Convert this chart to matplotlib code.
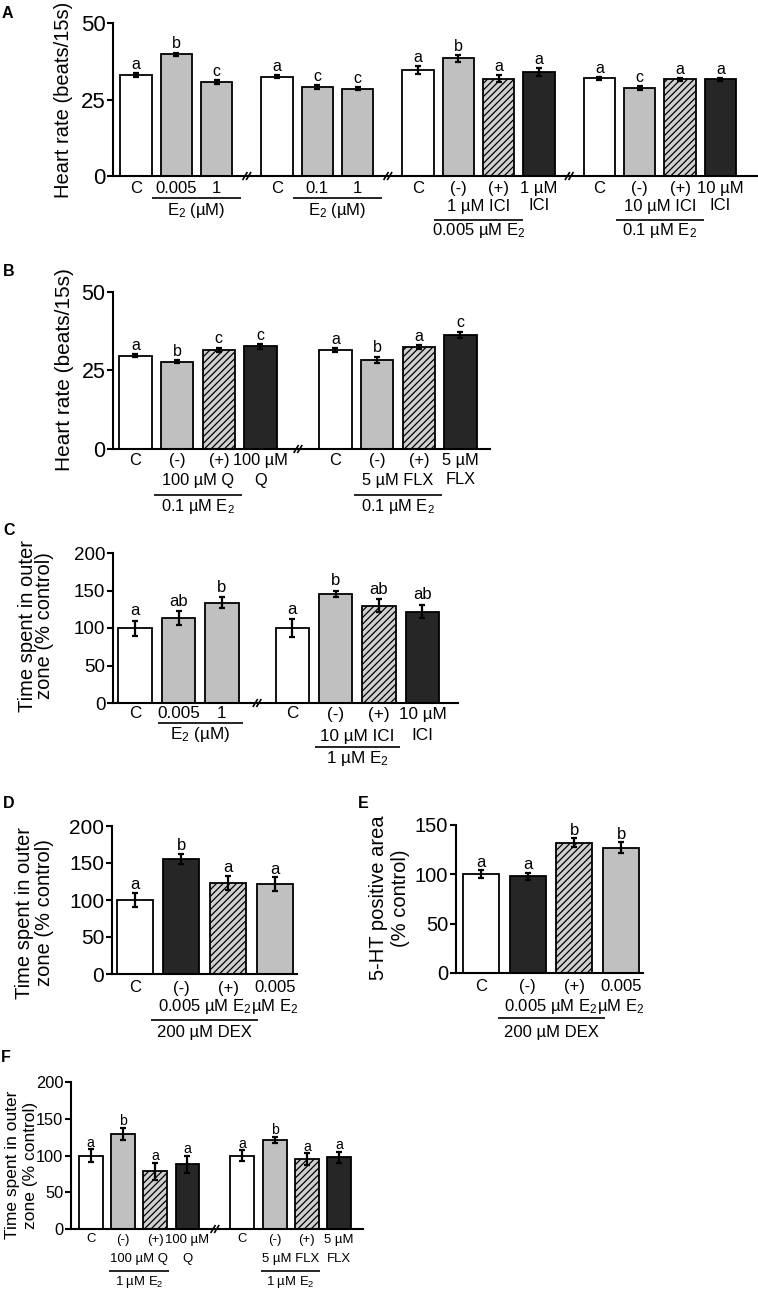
import matplotlib
matplotlib.use("Agg")
import matplotlib.pyplot as plt
from matplotlib import font_manager as fm

W, H, DPI = 758, 1295, 100

_names = {f.name for f in fm.fontManager.ttflist}
BASE = "Liberation Sans" if "Liberation Sans" in _names else "DejaVu Sans"
HAS_NARROW = "Liberation Sans Narrow" in _names
NARROW = "Liberation Sans Narrow" if HAS_NARROW else BASE

plt.rcParams["font.family"] = [BASE, "DejaVu Sans"]
plt.rcParams["mathtext.fontset"] = "custom"
plt.rcParams["mathtext.rm"] = BASE
plt.rcParams["mathtext.it"] = BASE + ":italic"
plt.rcParams["mathtext.bf"] = BASE + ":bold"
plt.rcParams["hatch.linewidth"] = 0.9

MU = "\u00b5"
E2 = "E$_2$"

# ---------------- data ----------------
# Panel A
a_cats = ["C", "0.005", "1", "C", "0.1", "1", "C", "(-)", "(+)", f"1 {MU}M",
          "C", "(-)", "(+)", f"10 {MU}M"]
a_vals = [33.0, 39.8, 30.7, 32.5, 29.0, 28.5, 34.6, 38.5, 31.8, 34.0, 31.9, 28.7, 31.6, 31.6]
a_errs = [0.75, 0.55, 0.65, 0.6, 0.65, 0.55, 1.2, 1.1, 1.1, 1.25, 0.55, 0.55, 0.5, 0.45]
a_sig = ["a", "b", "c", "a", "c", "c", "a", "b", "a", "a", "a", "c", "a", "a"]
a_fill = ["white", "gray", "gray", "white", "gray", "gray", "white", "gray", "hatch", "black",
          "white", "gray", "hatch", "black"]
a_groups = [3, 3, 4, 4]
a_row2 = [(7, 8, f"1 {MU}M ICI"), (9, 9, "ICI"), (11, 12, f"10 {MU}M ICI"), (13, 13, "ICI")]
a_brackets = [(1, 2, f"{E2} ({MU}M)"), (4, 5, f"{E2} ({MU}M)"),
              (7, 8, f"0.005 {MU}M {E2}"), (11, 12, f"0.1 {MU}M {E2}")]

# Panel B
b_cats = ["C", "(-)", "(+)", f"100 {MU}M", "C", "(-)", "(+)", f"5 {MU}M"]
b_vals = [29.7, 27.8, 31.6, 32.7, 31.5, 28.3, 32.4, 36.3]
b_errs = [0.5, 0.5, 0.65, 0.7, 0.65, 1.05, 0.65, 1.05]
b_sig = ["a", "b", "c", "c", "a", "b", "a", "c"]
b_fill = ["white", "gray", "hatch", "black", "white", "gray", "hatch", "black"]
b_groups = [4, 4]
b_row2 = [(1, 2, f"100 {MU}M Q"), (3, 3, "Q"), (5, 6, f"5 {MU}M FLX"), (7, 7, "FLX")]
b_brackets = [(1, 2, f"0.1 {MU}M {E2}"), (5, 6, f"0.1 {MU}M {E2}")]

# Panel C
c_cats = ["C", "0.005", "1", "C", "(-)", "(+)", f"10 {MU}M"]
c_vals = [100, 113, 133.5, 100, 145.5, 129.5, 122]
c_errs = [10, 9.5, 7.3, 11.5, 4.5, 8.7, 9.3]
c_sig = ["a", "ab", "b", "a", "b", "ab", "ab"]
c_fill = ["white", "gray", "gray", "white", "gray", "hatch", "black"]
c_groups = [3, 4]
c_row2 = [(4, 5, f"10 {MU}M ICI"), (6, 6, "ICI")]
c_brackets = [(1, 2, f"{E2} ({MU}M)"), (4, 5, f"1 {MU}M {E2}")]

# Panel D
d_cats = ["C", "(-)", "(+)", "0.005"]
d_vals = [100, 156, 123, 121.5]
d_errs = [10, 6.8, 10, 9]
d_sig = ["a", "b", "a", "a"]
d_fill = ["white", "black", "hatch", "gray"]
d_groups = [4]
d_row2 = [(1, 2, f"0.005 {MU}M {E2}"), (3, 3, f"{MU}M {E2}")]
d_brackets = [(1, 2, f"200 {MU}M DEX")]

# Panel E
e_cats = ["C", "(-)", "(+)", "0.005"]
e_vals = [100, 98, 132, 127]
e_errs = [3.9, 3.4, 4.8, 5.3]
e_sig = ["a", "a", "b", "b"]
e_fill = ["white", "black", "hatch", "gray"]
e_groups = [4]
e_row2 = [(1, 2, f"0.005 {MU}M {E2}"), (3, 3, f"{MU}M {E2}")]
e_brackets = [(1, 2, f"200 {MU}M DEX")]

# Panel F
f_cats = ["C", "(-)", "(+)", f"100 {MU}M", "C", "(-)", "(+)", f"5 {MU}M"]
f_vals = [100, 129.5, 78.5, 88, 100, 121.5, 95, 97.5]
f_errs = [8.6, 8.4, 11.8, 12, 7.2, 4, 7.9, 7.9]
f_sig = ["a", "b", "a", "a", "a", "b", "a", "a"]
f_fill = ["white", "gray", "hatch", "black", "white", "gray", "hatch", "black"]
f_groups = [4, 4]
f_row2 = [(1, 2, f"100 {MU}M Q"), (3, 3, "Q"), (5, 6, f"5 {MU}M FLX"), (7, 7, "FLX")]
f_brackets = [(1, 2, f"1 {MU}M {E2}"), (5, 6, f"1 {MU}M {E2}")]

# ---------------- styles ----------------
STYLE = {
    "white": dict(color="white", hatch=None),
    "gray": dict(color="#c0c0c0", hatch=None),
    "black": dict(color="#262626", hatch=None),
    "hatch": dict(color="#d0d0d0", hatch="/////"),
}

fig = plt.figure(figsize=(W / DPI, H / DPI), dpi=DPI)


def positions(groups, gap):
    xs = []
    p = 0.0
    for gi, n in enumerate(groups):
        if gi > 0:
            p += gap - 1
        for _ in range(n):
            xs.append(p)
            p += 1
    return xs


def draw_panel(box, xlim, ylim, yticks, groups, gap, cats, vals, errs, sig, fill,
               row2, brackets, lay):
    l, t, r, b = box
    ax = fig.add_axes([l / W, 1 - b / H, (r - l) / W, (b - t) / H])
    xs = positions(groups, gap)
    fam = [lay["family"], "DejaVu Sans"]
    ypp = (ylim[1] - ylim[0]) / (b - t)
    xpp = (xlim[1] - xlim[0]) / (r - l)

    for x, v, f in zip(xs, vals, fill):
        st = STYLE[f]
        ax.bar(x, v, width=lay["bw"], color=st["color"], edgecolor="black",
               linewidth=1.3, hatch=st["hatch"], zorder=2)
    ax.errorbar(xs, vals, yerr=errs, fmt="none", ecolor="black", elinewidth=1.6,
                capsize=2.3, capthick=1.6, zorder=3)
    for x, v, e, s in zip(xs, vals, errs, sig):
        ax.annotate(s, (x, v + e), xytext=(0, lay["sig_off"]), textcoords="offset points",
                    ha="center", va="baseline", fontsize=lay["fs_sig"], family=fam)

    ax.set_xlim(*xlim)
    ax.set_ylim(*ylim)
    ax.set_yticks(yticks)
    ax.set_xticks([])
    ax.tick_params(axis="y", direction="out", length=4, width=1.5, pad=1.5,
                   labelsize=lay["fs_tick"])
    for lbl in ax.get_yticklabels():
        lbl.set_family(fam)
    for sp in ("top", "right"):
        ax.spines[sp].set_visible(False)
    for sp in ("left", "bottom"):
        ax.spines[sp].set_linewidth(1.5)
    ax.patch.set_alpha(0)

    def row(x, text, dy):
        ax.annotate(text, (x, 0), xycoords=("data", "axes fraction"),
                    xytext=(0, -dy * 72 / DPI), textcoords="offset points",
                    ha="center", va="center", fontsize=lay["fs_x"], family=fam,
                    annotation_clip=False)

    for x, c in zip(xs, cats):
        row(x, c, lay["r1"])
    for i0, i1, txt in row2:
        row((xs[i0] + xs[i1]) / 2, txt, lay["r2"])
    for k, (i0, i1, txt) in enumerate(brackets):
        uy, ty = lay["br"][k]
        x0 = xs[i0] - lay["ext"]
        x1 = xs[i1] + lay["ext"]
        ax.plot([x0, x1], [-uy * ypp, -uy * ypp], color="black", lw=1.2,
                clip_on=False, solid_capstyle="butt")
        row((xs[i0] + xs[i1]) / 2, txt, ty)

    # axis break marks between groups
    idx = 0
    for n in groups[:-1]:
        idx += n
        xb = (xs[idx - 1] + xs[idx]) / 2
        for sgn in (-1, 1):
            cx = xb + sgn * 1.8 * xpp
            ax.plot([cx - 2.0 * xpp, cx + 2.0 * xpp], [-3.3 * ypp, 3.3 * ypp],
                    color="black", lw=1.2, clip_on=False, zorder=4)
    return ax


def ylabel(lines, xs_px, y_px, size, family=BASE):
    for txt, x in zip(lines, xs_px):
        fig.text(x / W, 1 - y_px / H, txt, rotation=90, ha="center", va="center",
                 fontsize=size, family=[family, "DejaVu Sans"])


def letter(txt, x_px, y_px):
    fig.text(x_px / W, 1 - y_px / H, txt, ha="center", va="center", fontsize=11.5,
             fontweight="bold")


# ---------------- panels ----------------
draw_panel((113, 23, 757, 176), (-0.57, 15.41), (0, 50), [0, 25, 50], a_groups, 1.5,
           a_cats, a_vals, a_errs, a_sig, a_fill, a_row2, a_brackets,
           dict(family=BASE, bw=0.78, sig_off=3, fs_sig=11.5, fs_tick=16, fs_x=12,
                r1=12.5, r2=30, br=[(22, 35), (22, 35), (44, 55), (44, 55)], ext=0.6))
ylabel(["Heart rate (beats/15s)"], [63.5], 100, 14.5)
letter("A", 7.5, 13)

draw_panel((113, 292, 490, 449), (-0.54, 8.51), (0, 50), [0, 25, 50], b_groups, 1.8,
           b_cats, b_vals, b_errs, b_sig, b_fill, b_row2, b_brackets,
           dict(family=BASE, bw=0.78, sig_off=3.2, fs_sig=11.5, fs_tick=15.5, fs_x=11.8,
                r1=11.5, r2=31, br=[(46, 57), (46, 57)], ext=0.55))
ylabel(["Heart rate (beats/15s)"], [65], 370, 15)
letter("B", 9, 271)

draw_panel((113, 553, 458, 703), (-0.51, 7.44), (0, 200), [0, 50, 100, 150, 200], c_groups,
           1.62, c_cats, c_vals, c_errs, c_sig, c_fill, c_row2, c_brackets,
           dict(family=BASE, bw=0.77, sig_off=4, fs_sig=12, fs_tick=13.5, fs_x=12.3,
                r1=11, r2=33, br=[(19.5, 32), (43.5, 56)], ext=0.48))
ylabel(["Time spent in outer", "zone (% control)"], [27.5, 45], 626, 14.5)
letter("C", 9, 531)

draw_panel((112, 826, 297, 974), (-0.49, 3.48), (0, 200), [0, 50, 100, 150, 200], d_groups,
           1.0, d_cats, d_vals, d_errs, d_sig, d_fill, d_row2, d_brackets,
           dict(family=BASE, bw=0.77, sig_off=2.5, fs_sig=12, fs_tick=15, fs_x=12,
                r1=14, r2=32.5, br=[(46, 59)], ext=0.65))
ylabel(["Time spent in outer", "zone (% control)"], [25, 45], 913, 14.5)
letter("D", 9, 804)

draw_panel((456, 825, 643, 973), (-0.54, 3.47), (0, 150), [0, 50, 100, 150], e_groups,
           1.0, e_cats, e_vals, e_errs, e_sig, e_fill, e_row2, e_brackets,
           dict(family=BASE, bw=0.77, sig_off=2.5, fs_sig=12, fs_tick=14.5, fs_x=12,
                r1=13.5, r2=33, br=[(45, 59)], ext=0.65))
ylabel(["5-HT positive area", "(% control)"], [379, 400], 898, 14.5)
letter("E", 363, 804)

f_scale = 1.0 if HAS_NARROW else 0.84
draw_panel((71, 1082, 363, 1229), (-0.61, 8.44), (0, 200), [0, 50, 100, 150, 200], f_groups,
           1.7, f_cats, f_vals, f_errs, f_sig, f_fill, f_row2, f_brackets,
           dict(family=NARROW, bw=0.74, sig_off=1.8, fs_sig=12 * f_scale,
                fs_tick=14 * f_scale, fs_x=11.3 * f_scale,
                r1=10.5, r2=30, br=[(41.7, 53.5), (41.7, 53.5)], ext=0.42))
ylabel(["Time spent in outer", "zone (% control)"], [12.5, 30], 1165, 12.5)
letter("F", 6, 1057)

fig.savefig("out.png", dpi=DPI)
